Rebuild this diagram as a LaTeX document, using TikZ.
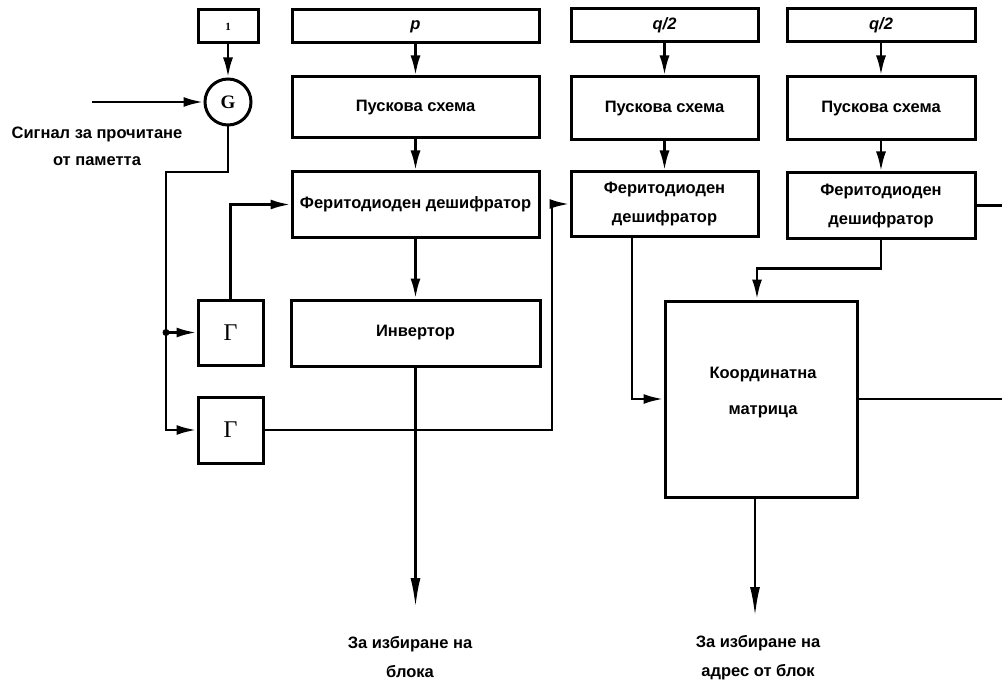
\documentclass[tikz,border=0pt]{standalone}
\usepackage{fontspec}
\setsansfont{Liberation Sans}
\newfontfamily\cyrserif{Liberation Serif}
\usetikzlibrary{arrows.meta}
\newcommand\mylbl{\sffamily\bfseries\fontsize{16.5}{29}\selectfont}
\tikzset{
  blk/.style={draw, line width=3pt, inner sep=0pt, align=center, font=\mylbl},
  txt/.style={inner sep=0pt, align=center, font=\mylbl},
  wire/.style={line width=2.8pt},
  arr/.style={wire, -{Latex[length=20pt,width=10pt]}},
  arrlong/.style={wire, -{Latex[length=30pt,width=10pt]}},
}
\begin{document}
\begin{tikzpicture}[x=1pt,y=-1pt]
\useasboundingbox (0,0) rectangle (1002,682);
\fill[white] (0,0) rectangle (1002,682);

% left column
\node[blk, minimum width=60pt, minimum height=33pt, font=\cyrserif\bfseries\fontsize{11}{11}\selectfont] (one) at (228,26.5) {1};
\node[draw, circle, line width=3pt, minimum size=46pt, inner sep=0pt, font=\cyrserif\bfseries\fontsize{19}{19}\selectfont] (G) at (228,102) {G};
\node[blk, minimum width=65pt, minimum height=65pt, font=\cyrserif\fontsize{24}{24}\selectfont] (g1) at (230.5,332.5) {Г};
\node[blk, minimum width=65pt, minimum height=66pt, font=\cyrserif\fontsize{24}{24}\selectfont] (g2) at (230.5,430) {Г};
\node[txt] (sig) at (97,146.5) {Сигнал за прочитане\\[-2pt]от паметта};
\coordinate (in) at (92,102);
\coordinate (trunkTop) at (166,172);
\coordinate (trunkBot) at (166,430);
\coordinate (br) at (166,332.5);

% column p
\node[blk, minimum width=247pt, minimum height=33pt] (p) at (415.5,26.5) {\itshape p};
\node[blk, minimum width=247pt, minimum height=61pt] (ps1) at (415.5,107.5) {Пускова схема};
\node[blk, minimum width=247pt, minimum height=65pt] (fd1) at (415.5,204.5) {Феритодиоден дешифратор};
\node[blk, minimum width=249pt, minimum height=66pt] (inv) at (415.5,333) {Инвертор};
\coordinate (out1) at (415.5,608);
\node[txt] (lab1) at (410,657.5) {За избиране на\\блока};
\coordinate (rise) at (552,430);

% column q/2 (1)
\node[blk, minimum width=187pt, minimum height=33pt] (q1) at (664.5,25.5) {\itshape q/2};
\node[blk, minimum width=187pt, minimum height=63pt] (ps2) at (664.5,108.5) {Пускова схема};
\node[blk, minimum width=187pt, minimum height=64pt] (fd2) at (664.5,204) {Феритодиоден\\дешифратор};

% column q/2 (2)
\node[blk, minimum width=188pt, minimum height=33pt] (q2) at (881,25.5) {\itshape q/2};
\node[blk, minimum width=188pt, minimum height=63pt] (ps3) at (881,108.5) {Пускова схема};
\node[blk, minimum width=188pt, minimum height=65pt] (fd3) at (881,205.5) {Феритодиоден\\дешифратор};

% matrix
\node[blk, minimum width=192pt, minimum height=196pt] (mat) at (761,399) {};
\node[txt, font=\mylbl\fontsize{16.5}{36}\selectfont] (matlab) at (763,393) {Координатна\\матрица};
\coordinate (out2) at (755,617);
\node[txt] (lab2) at (758,657.5) {За избиране на\\адрес от блок};
\coordinate (rt1) at (1002,205.5);
\coordinate (rt2) at (1002,399);

% connectors left
\draw[arr] (one) -- (G);
\draw[arr] (in) -- (G.west);
\draw[arr] (G.south) |- (trunkTop) -- (trunkBot) -- (g2.west);
\draw[arr] (br) -- (g1.west);
\fill (br) circle (3.5pt);
\draw[arr] (g1.north) |- (fd1.west);

% column p
\draw[arr] (p) -- (ps1);
\draw[arr] (ps1) -- (fd1);
\draw[arr] (fd1) -- (inv);
\draw[arrlong] (inv.south) -- (out1);
\draw[arr] (g2.east) -- (rise) |- (fd2.west);

% column q/2 (1)
\draw[arr] (q1) -- (ps2);
\draw[arr] (ps2) -- (fd2);
\draw[arr] ([xshift=-32.5pt]fd2.south) |- (mat.west);

% column q/2 (2)
\draw[arr] (q2) -- (ps3);
\draw[arr] (ps3) -- (fd3);
\draw[arr] (fd3.south) -- ++(0,29) -| ([xshift=-4pt]mat.north);
\draw[wire] (fd3.east) -- (rt1);

% matrix outputs
\draw[wire] (mat.east) -- (rt2);
\draw[arrlong] ([xshift=-6pt]mat.south) -- (out2);
\end{tikzpicture}
\end{document}
